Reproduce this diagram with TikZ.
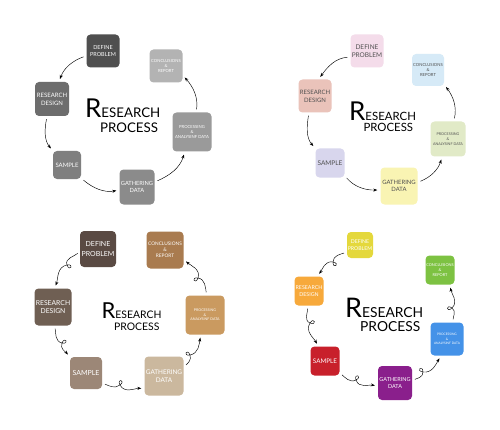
\documentclass[tikz,border=0pt]{standalone}
\usepackage{fontspec}
\setmainfont{Lato}
\usepackage{tikz}
\usetikzlibrary{calc, arrows.meta}
\definecolor{MonoDefine}{HTML}{4F4F4F}
\definecolor{MonoConcl}{HTML}{B3B3B3}
\definecolor{MonoDesign}{HTML}{6D6D6D}
\definecolor{MonoProc}{HTML}{9A9A9A}
\definecolor{MonoSample}{HTML}{7F7F7F}
\definecolor{MonoGather}{HTML}{8B8B8B}
\definecolor{PastelDefine}{HTML}{F4DCEA}
\definecolor{PastelConcl}{HTML}{D6EAF7}
\definecolor{PastelDesign}{HTML}{EAC3BA}
\definecolor{PastelProc}{HTML}{E1EAC7}
\definecolor{PastelSample}{HTML}{D8D6ED}
\definecolor{PastelGather}{HTML}{F9F4B3}
\definecolor{PastelText}{HTML}{505050}
\definecolor{EarthDefine}{HTML}{5A4A43}
\definecolor{EarthConcl}{HTML}{A97B4F}
\definecolor{EarthDesign}{HTML}{6F5F53}
\definecolor{EarthProc}{HTML}{CA9A60}
\definecolor{EarthSample}{HTML}{9C8777}
\definecolor{EarthGather}{HTML}{CBB89E}
\definecolor{BrightDefine}{HTML}{E4D83C}
\definecolor{BrightConcl}{HTML}{7DC242}
\definecolor{BrightDesign}{HTML}{F7A93B}
\definecolor{BrightProc}{HTML}{4492E8}
\definecolor{BrightSample}{HTML}{C8202B}
\definecolor{BrightGather}{HTML}{8A1F8C}
% small loop at point #1, the line heading #2
\newcommand{\twirl}[2]{.. controls ($(#1)+({#2+50}:8)$) and ($(#1)+({#2+130}:8)$) .. (#1)}

\begin{document}
\begin{tikzpicture}[
			x=1pt, y=1pt,
			box/.style={rectangle, rounded corners=4pt, minimum size=#1pt, inner sep=0pt, align=center, text=white},
			fs/.style={font=\linespread{1.3}\fontsize{#1}{#1}\selectfont},
			title/.style={anchor=base west, inner sep=0pt},
			arrow/.style={->, >={Stealth[length=4pt, width=3pt]}, line width=0.45pt, shorten <=3pt, shorten >=3pt}
			]
			\useasboundingbox (0,0) rectangle (500,429);
			\fill[white] (0,0) rectangle (500,429);
			
			% Grey cycle
			\node (dp1) [box=33, fill=MonoDefine, fs=5.5] at (103,378) {DEFINE\\PROBLEM};
			\node (cr1) [box=33, fill=MonoConcl, fs=4.2] at (166,363) {CONCLUSIONS\\\&\\REPORT};
			\node (rd1) [box=34, fill=MonoDesign, fs=6] at (52,330) {RESEARCH\\DESIGN};
			\node (pa1) [box=39, fill=MonoProc, fs=4.2] at (192,297) {PROCESSING\\\&\\ANALYSINF DATA};
			\node (sa1) [box=28, fill=MonoSample, fs=6] at (67,264) {SAMPLE};
			\node (gd1) [box=35, fill=MonoGather, fs=5.7] at (137,242) {GATHERING\\DATA};
			\node (ti1) [title] at (85,311) {\fontsize{26}{26}\selectfont R\fontsize{13.3}{14}\selectfont ESEARCH};
			\node (pr1) [title, font=\fontsize{13.3}{14}\selectfont] at (100,296.3) {PROCESS};
			
			\draw[arrow] (dp1.196) to[out=200, in=70] (rd1.68);
			\draw[arrow] (rd1.254) to[out=259, in=129] (sa1.135);
			\draw[arrow] (sa1.317) to[out=320, in=190] (gd1.190);
			\draw[arrow] (gd1.16) to[out=23, in=253] (pa1.250);
			\draw[arrow] (pa1.78) to[out=82, in=312] (cr1.331);
			
			% Pastel cycle
			\node (dp2) [box=33, fill=PastelDefine, text=PastelText, fs=6.5] at (367,378) {DEFINE\\PROBLEM};
			\node (cr2) [box=32, fill=PastelConcl, text=PastelText, fs=4.2] at (428,359) {CONCLUSIONS\\\&\\REPORT};
			\node (rd2) [box=33, fill=PastelDesign, text=PastelText, fs=6] at (315,333) {RESEARCH\\DESIGN};
			\node (pa2) [box=35, fill=PastelProc, text=PastelText, fs=3.7] at (448,290) {PROCESSING\\\&\\ANALYSINF DATA};
			\node (sa2) [box=29, fill=PastelSample, text=PastelText, fs=6.5] at (330,266) {SAMPLE};
			\node (gd2) [box=37, fill=PastelGather, text=PastelText, fs=5.9] at (399,243) {GATHERING\\DATA};
			\node (ti2) [title] at (349,308.3) {\fontsize{26}{26}\selectfont R\fontsize{11.4}{12}\selectfont ESEARCH};
			\node (pr2) [title, font=\fontsize{11.4}{12}\selectfont] at (363.3,297.3) {PROCESS};
			
			\draw[arrow] (dp2.200) to[out=184, in=54] (rd2.78);
			\draw[arrow] (rd2.250) to[out=261, in=131] (sa2.135);
			\draw[arrow] (sa2.319) to[out=311, in=181] (gd2.192);
			\draw[arrow] (gd2.11) to[out=22, in=252] (pa2.252);
			\draw[arrow] (pa2.72) to[out=77, in=307] (cr2.318);
			
			% Earth cycle
			\node (dp3) [box=36, fill=EarthDefine, fs=7] at (98,180) {DEFINE\\PROBLEM};
			\node (cr3) [box=37, fill=EarthConcl, fs=4.8] at (165,179) {CONCLUSIONS\\\&\\REPORT};
			\node (rd3) [box=37, fill=EarthDesign, fs=6.8] at (53,122) {RESEARCH\\DESIGN};
			\node (pa3) [box=39, fill=EarthProc, fs=3.6] at (205,114) {PROCESSING\\\&\\ANALYSINF DATA};
			\node (sa3) [box=32, fill=EarthSample, fs=7] at (86,56) {SAMPLE};
			\node (gd3) [box=39, fill=EarthGather, fs=6.4] at (164,53) {GATHERING\\DATA};
			\node (ti3) [title] at (101.5,110.7) {\fontsize{22}{22}\selectfont R\fontsize{10.4}{11}\selectfont ESEARCH};
			\node (pr3) [title, font=\fontsize{10.4}{11}\selectfont] at (114,99) {PROCESS};
			
			\coordinate (k31) at (67,164);
			\coordinate (k32) at (62,86);
			\coordinate (k33) at (120,44);
			\coordinate (k34) at (190,74);
			\coordinate (k35) at (198,151);
			\draw[arrow] (dp3.187) to[out=225, in=110] (k31) \twirl{k31}{240} to[out=190, in=70] (rd3.85);
			\draw[arrow] (rd3.275) to[out=280, in=168] (k32) \twirl{k32}{298} to[out=248, in=130] (sa3.135);
			\draw[arrow] (sa3.328) to[out=340, in=218] (k33) \twirl{k33}{348} to[out=298, in=180] (gd3.212);
			\draw[arrow] (gd3.25) to[out=40, in=290] (k34) \twirl{k34}{60} to[out=10, in=260] (pa3.258);
			\draw[arrow] (pa3.85) to[out=100, in=351] (k35) \twirl{k35}{121} to[out=71, in=320] (cr3.333);
			
			% Bright cycle
			\node (dp4) [box=26, fill=BrightDefine, fs=5.2] at (360,184) {DEFINE\\PROBLEM};
			\node (cr4) [box=29, fill=BrightConcl, fs=3.9] at (440,159) {CONCLUSIONS\\\&\\REPORT};
			\node (rd4) [box=29, fill=BrightDesign, fs=5.3] at (309,138) {RESEARCH\\DESIGN};
			\node (pa4) [box=33, fill=BrightProc, fs=3.2] at (447,90) {PROCESSING\\\&\\ANALYSINF DATA};
			\node (sa4) [box=29, fill=BrightSample, fs=6.3] at (325,68) {SAMPLE};
			\node (gd4) [box=34, fill=BrightGather, fs=5.5] at (395,46) {GATHERING\\DATA};
			\node (ti4) [title] at (345,111.3) {\fontsize{27}{27}\selectfont R\fontsize{13.8}{14}\selectfont ESEARCH};
			\node (pr4) [title, font=\fontsize{13.8}{14}\selectfont] at (360,97.3) {PROCESS};
			
			\coordinate (k41) at (333,167);
			\coordinate (k42) at (310,106);
			\coordinate (k43) at (356,49);
			\coordinate (k44) at (423,57);
			\coordinate (k45) at (452,121);
			\draw[arrow] (dp4.208) to[out=200, in=89] (k41) \twirl{k41}{219} to[out=169, in=55] (rd4.60);
			\draw[arrow] (rd4.265) to[out=270, in=158] (k42) \twirl{k42}{288} to[out=238, in=120] (sa4.114);
			\draw[arrow] (sa4.321) to[out=320, in=207] (k43) \twirl{k43}{337} to[out=287, in=170] (gd4.190);
			\draw[arrow] (gd4.8) to[out=25, in=272] (k44) \twirl{k44}{42} to[out=352, in=240] (pa4.250);
			\draw[arrow] (pa4.70) to[out=90, in=324] (k45) \twirl{k45}{94} to[out=44, in=280] (cr4.304);
			
		\end{tikzpicture}
\end{document}
